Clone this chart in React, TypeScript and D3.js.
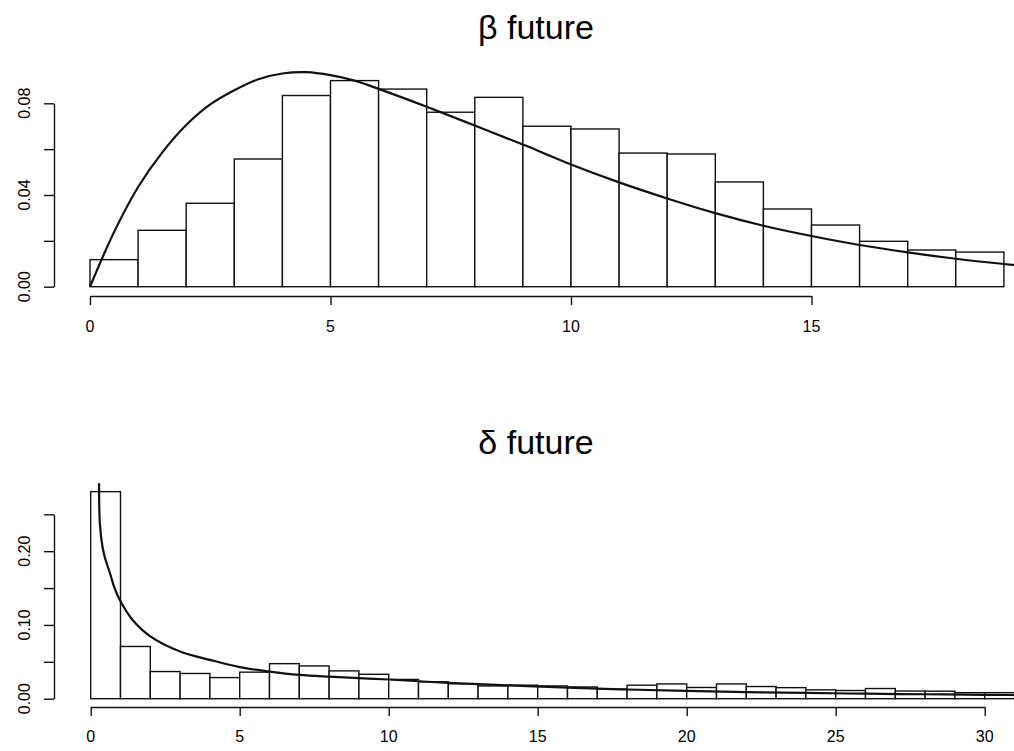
import React, { useEffect, useRef } from 'react';
import * as d3 from 'd3';

// beta future: histogram densities for bins [0,1), [1,2), ... [18,19)
const betaDensity = [
  0.0118, 0.0246, 0.0364, 0.0557, 0.0834, 0.0899, 0.0862, 0.0761, 0.0826, 0.07,
  0.0688, 0.0583, 0.0579, 0.0457, 0.0339, 0.0269, 0.0198, 0.016, 0.0151,
];
const betaCurveX = [0, 0.5, 1, 1.5, 2, 2.5, 3, 3.5, 4, 4.5, 5, 5.5, 6, 7, 8, 9, 10, 11, 12, 13, 14, 15, 16, 17, 18, 19, 19.5];
const betaCurveY = [
  0, 0.0238, 0.0435, 0.0585, 0.0705, 0.0795, 0.0857, 0.0905, 0.093, 0.0936, 0.0923, 0.0899,
  0.0863, 0.0785, 0.0703, 0.062, 0.0533, 0.0455, 0.0385, 0.0321, 0.0266, 0.0221, 0.0182, 0.015,
  0.0122, 0.0099, 0.0089,
];
const betaXTicks = [0, 5, 10, 15];
const betaYTicks = [0, 0.02, 0.04, 0.06, 0.08];
const betaYLabels = ['0.00', '', '0.04', '', '0.08'];

// delta future: bins [0,1) ... [30,31)
const deltaDensity = [
  0.2807, 0.0708, 0.0368, 0.0342, 0.0286, 0.036, 0.0475, 0.0444, 0.0377, 0.0331,
  0.0261, 0.0229, 0.0203, 0.0173, 0.0183, 0.0173, 0.0159, 0.013, 0.0183, 0.02,
  0.0152, 0.02, 0.0165, 0.015, 0.012, 0.0111, 0.0138, 0.0104, 0.0102, 0.0082, 0.0082,
];
const deltaCurveX = [0.28, 0.31, 0.4, 0.5, 0.64, 0.8, 1, 1.4, 2, 3, 4, 5, 6, 7, 8, 9, 10, 12, 14, 16, 18, 20, 22, 24, 26, 28, 30, 31];
const deltaCurveY = [
  0.292, 0.236, 0.205, 0.188, 0.171, 0.15, 0.132, 0.107, 0.0845, 0.064, 0.0527, 0.0428, 0.0368,
  0.0323, 0.0298, 0.0278, 0.026, 0.0215, 0.018, 0.015, 0.0125, 0.0105, 0.009, 0.0078, 0.0068,
  0.006, 0.0053, 0.005,
];
const deltaXTicks = [0, 5, 10, 15, 20, 25, 30];
const deltaYTicks = [0, 0.05, 0.1, 0.15, 0.2, 0.25];
const deltaYLabels = ['0.00', '', '0.10', '', '0.20', ''];

const FONT = '"Liberation Sans", Arial, Helvetica, sans-serif';

type Panel = {
  title: string;
  titleY: number;
  density: number[];
  curveX: number[];
  curveY: number[];
  xTicks: number[];
  yTicks: number[];
  yLabels: string[];
  xRange: [number, number];
  yRange: [number, number];
  xAxisY: number;
  xLabelY: number;
};

const panels: Panel[] = [
  {
    title: '\u03b2 future', titleY: 39,
    density: betaDensity, curveX: betaCurveX, curveY: betaCurveY,
    xTicks: betaXTicks, yTicks: betaYTicks, yLabels: betaYLabels,
    xRange: [90, 811.5], yRange: [286.7, 103.3], xAxisY: 296, xLabelY: 332,
  },
  {
    title: '\u03b4 future', titleY: 454,
    density: deltaDensity, curveX: deltaCurveX, curveY: deltaCurveY,
    xTicks: deltaXTicks, yTicks: deltaYTicks, yLabels: deltaYLabels,
    xRange: [90.7, 984.7], yRange: [698.7, 514.3], xAxisY: 707, xLabelY: 742,
  },
];

function drawPanel(svg: d3.Selection<SVGSVGElement, unknown, null, undefined>, p: Panel) {
  let g = svg.append('g');
  let xt = p.xTicks;
  let x = d3.scaleLinear().domain([xt[0], xt[xt.length - 1]]).range(p.xRange);
  let y = d3.scaleLinear().domain([p.yTicks[0], p.yTicks[p.yTicks.length - 1]]).range(p.yRange);

  g.append('text')
    .attr('x', 536)
    .attr('y', p.titleY)
    .attr('text-anchor', 'middle')
    .style('font-family', FONT)
    .style('font-size', '34px')
    .text(p.title);

  // histogram bars
  g.selectAll('.bar')
    .data(p.density)
    .enter().append('rect')
    .attr('class', 'bar')
    .attr('x', (d, i) => x(i))
    .attr('width', (d, i) => x(i + 1) - x(i))
    .attr('y', d => y(d))
    .attr('height', d => y(0) - y(d))
    .attr('fill', 'white')
    .attr('stroke', '#111')
    .attr('stroke-width', 1.4);

  let line = d3.line<number>()
    .x((d, i) => x(p.curveX[i]))
    .y(d => y(d))
    .curve(d3.curveCatmullRom.alpha(0.5));

  g.append('path')
    .datum(p.curveY)
    .attr('d', line)
    .attr('fill', 'none')
    .attr('stroke', '#111')
    .attr('stroke-width', 2.2);

  // x axis
  let xAxis = d3.axisBottom(x).tickValues(xt).tickSize(9).tickSizeOuter(0).tickFormat(() => '');
  let xa = g.append('g')
    .attr('transform', 'translate(0,' + p.xAxisY + ')')
    .call(xAxis);
  xa.selectAll('path, line').attr('stroke', '#111').attr('stroke-width', 1.4);

  g.selectAll('.xlab')
    .data(xt)
    .enter().append('text')
    .attr('class', 'xlab')
    .attr('x', d => x(d))
    .attr('y', p.xLabelY)
    .attr('text-anchor', 'middle')
    .style('font-family', FONT)
    .style('font-size', '16px')
    .text(d => String(d));

  // y axis
  let yAxis = d3.axisLeft(y).tickValues(p.yTicks).tickSize(10).tickSizeOuter(0).tickFormat(() => '');
  let ya = g.append('g')
    .attr('transform', 'translate(54,0)')
    .call(yAxis);
  ya.selectAll('path, line').attr('stroke', '#111').attr('stroke-width', 1.4);

  g.selectAll('.ylab')
    .data(p.yTicks)
    .enter().append('text')
    .attr('class', 'ylab')
    .attr('transform', d => 'translate(30,' + y(d) + ') rotate(-90)')
    .attr('text-anchor', 'middle')
    .style('font-family', FONT)
    .style('font-size', '16px')
    .text((d, i) => p.yLabels[i]);
}

export default function App() {
  const ref = useRef<SVGSVGElement>(null);

  useEffect(() => {
    let svg = d3.select(ref.current as SVGSVGElement);
    svg.selectAll('*').remove();
    panels.forEach(p => drawPanel(svg, p));
  }, []);

  return (
    <svg
      ref={ref}
      width={1014}
      height={751}
      style={{ position: 'absolute', left: 0, top: 0, background: 'white' }}
    ></svg>
  );
}
